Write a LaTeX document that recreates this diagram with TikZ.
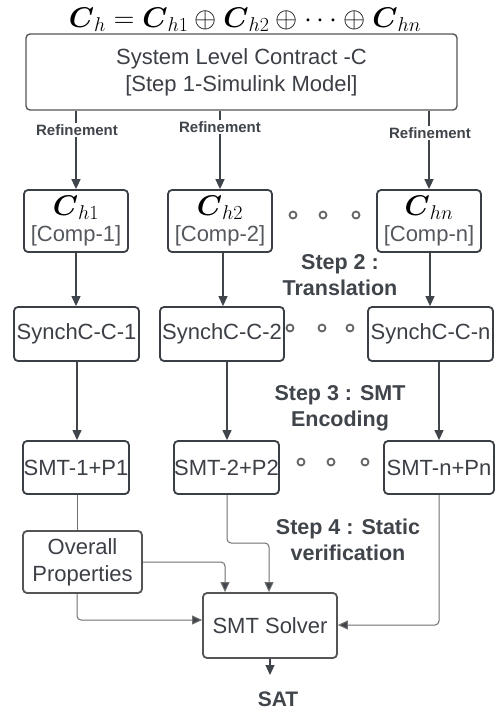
\RequirePackage{fix-cm}
\documentclass[tikz,border=0pt]{standalone}
\usepackage{fontspec}
\setmainfont{Liberation Sans}
\usetikzlibrary{arrows.meta}
\definecolor{bord}{HTML}{3A3F45}
\definecolor{bordb}{HTML}{555555}
\definecolor{txt}{HTML}{3C4046}
\definecolor{txtb}{HTML}{55595E}
\definecolor{ln}{HTML}{707070}
\definecolor{arr}{HTML}{40454B}
\newcommand{\bC}{\mbox{\boldmath$C$}}
\newcommand{\mymath}[1]{{\color{black}\fontsize{28.5}{28}\selectfont$#1$}}
\tikzset{
  box/.style={draw=bord, line width=1.8pt, rounded corners=4pt, inner sep=0pt, text=txt,
    font=\fontsize{22}{27}\selectfont, align=center},
  sysbox/.style={box, line width=1.4pt, draw=bordb},
  graybox/.style={box, draw=bordb},
  refarrow/.style={draw=arr, line width=1.6pt, -{Triangle[length=10pt,width=9pt]}},
  midarrow/.style={draw=arr, line width=1.1pt, -{Triangle[length=10pt,width=9pt]}},
  lowarrow/.style={draw=ln, line width=1pt, rounded corners=4pt, -{Triangle[length=10pt,width=9pt,fill=arr]}},
  lowline/.style={draw=ln, line width=1pt},
  reflabel/.style={font=\bfseries\fontsize{15}{18}\selectfont, text=arr, fill=white, inner sep=1pt},
  steplabel/.style={font=\bfseries\fontsize{21.5}{26}\selectfont, text=arr, align=center, inner sep=0pt},
  dot/.style={draw=ln!90!black, line width=1.8pt, circle, minimum size=7pt, inner sep=0pt},
  mathlbl/.style={text=black, inner sep=0pt}
}
\begin{document}
\begin{tikzpicture}[x=1pt, y=-1pt]
\useasboundingbox (0,0) rectangle (496,713);
\fill[white] (0,0) rectangle (496,713);

\node[mathlbl] (title) at (245,20) {\mymath{\bC_h = \bC_{h1} \oplus \bC_{h2} \oplus \cdots \oplus \bC_{hn}}};

\node[sysbox, minimum width=431pt, minimum height=76pt] (sys) at (241.5,72)
  {System Level Contract -C\\\relax[Step 1-Simulink Model]};

% component boxes
\node[box, minimum width=104pt, minimum height=62pt] (c1) at (76,221)
  {\mymath{\bC_{h1}}\\\relax{\color{txtb}[Comp-1]}};
\node[box, minimum width=104pt, minimum height=62pt] (c2) at (220,221)
  {\mymath{\bC_{h2}}\\\relax{\color{txtb}[Comp-2]}};
\node[box, minimum width=104pt, minimum height=62pt] (cn) at (429,221)
  {\mymath{\bC_{hn}}\\\relax{\color{txtb}[Comp-n]}};

% synch boxes
\node[box, minimum width=125pt, minimum height=54pt] (s1) at (76.5,334) {SynchC-C-1};
\node[box, minimum width=124pt, minimum height=54pt] (s2) at (222,334) {SynchC-C-2};
\node[box, minimum width=125pt, minimum height=54pt] (sn) at (430.5,334) {SynchC-C-n};

% smt boxes
\node[box, minimum width=106pt, minimum height=53pt] (m1) at (76,467.5) {SMT-1+P1};
\node[box, minimum width=105pt, minimum height=53pt] (m2) at (226.5,467.5) {SMT-2+P2};
\node[box, minimum width=110pt, minimum height=53pt] (mn) at (439,467.5) {SMT-n+Pn};

% overall + solver
\node[graybox, minimum width=119pt, minimum height=62pt] (ov) at (82.5,562) {Overall\\Properties};
\node[graybox, minimum width=134pt, minimum height=65pt] (solver) at (270,625.5) {SMT Solver};
\node[font=\bfseries\fontsize{21}{25}\selectfont, text=arr, inner sep=0pt] (sat) at (278,699) {SAT};

% dots
\node[dot] (d11) at (293,215) {};
\node[dot] (d12) at (323,215) {};
\node[dot] (d13) at (356,215) {};
\node[dot] (d21) at (290,328) {};
\node[dot] (d22) at (322,328) {};
\node[dot] (d23) at (350,328) {};
\node[dot] (d31) at (301,462) {};
\node[dot] (d32) at (331,462) {};
\node[dot] (d33) at (365,462) {};

% step labels
\node[steplabel] (st2) at (340,275) {Step 2 :\\Translation};
\node[steplabel] (st3) at (340,408) {Step 3 : SMT\\Encoding};
\node[steplabel] (st4) at (348,540) {Step 4 : Static\\verification};

% refinement arrows
\draw[refarrow] (sys.south -| c1) -- (c1.north);
\draw[refarrow] (sys.south -| c2) -- (c2.north);
\draw[refarrow] (sys.south -| cn) -- (cn.north);
\node[reflabel] (r1) at (77,130) {Refinement};
\node[reflabel] (r2) at (220,127) {Refinement};
\node[reflabel] (r3) at (430,133) {Refinement};

% comp -> synch
\draw[midarrow] (c1.south) -- (c1.south |- s1.north);
\draw[midarrow] (c2.south -| 223,0) -- (s2.north -| 223,0);
\draw[midarrow] (cn.south -| 430,0) -- (sn.north -| 430,0);

% synch -> smt
\draw[midarrow] (s1.south -| 77,0) -- (m1.north -| 77,0);
\draw[midarrow] (s2.south -| 227,0) -- (m2.north -| 227,0);
\draw[midarrow] (sn.south -| 439,0) -- (mn.north -| 439,0);

% lower connectors
\draw[lowline] (m1.south -| 77,0) -- (ov.north -| 77,0);
\draw[lowarrow] (m2.south -| 227,0) -- (227,543) -- (269,543) -- (solver.north -| 269,0);
\draw[lowarrow] (ov.east |- 0,562) -- (225,562) -- (solver.north -| 225,0);
\draw[lowarrow] (ov.south -| 77,0) -- (77,620) -- (solver.west |- 0,620);
\draw[lowarrow] (mn.south -| 439,0) -- (439,625) -- (solver.east |- 0,625);
\draw[midarrow, line width=1.2pt] (solver.south -| 270,0) -- (270,675);
\end{tikzpicture}
\end{document}
